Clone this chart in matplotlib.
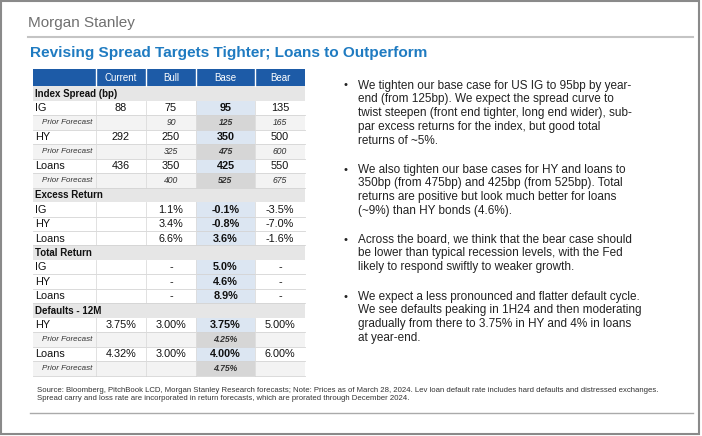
import matplotlib
matplotlib.use("Agg")
import matplotlib.pyplot as plt
from matplotlib.patches import Rectangle

# --- data -------------------------------------------------------------
columns = ["Current", "Bull", "Base", "Bear"]

spread_labels = ["IG", "HY", "Loans"]
spread_current = ["88", "292", "436"]
spread_bull = ["75", "250", "350"]
spread_base = ["95", "350", "425"]
spread_bear = ["135", "500", "550"]
prior_bull = ["90", "325", "400"]
prior_base = ["125", "475", "525"]
prior_bear = ["165", "600", "675"]

excess_labels = ["IG", "HY", "Loans"]
excess_bull = ["1.1%", "3.4%", "6.6%"]
excess_base = ["-0.1%", "-0.8%", "3.6%"]
excess_bear = ["-3.5%", "-7.0%", "-1.6%"]

total_labels = ["IG", "HY", "Loans"]
total_bull = ["-", "-", "-"]
total_base = ["5.0%", "4.6%", "8.9%"]
total_bear = ["-", "-", "-"]

default_labels = ["HY", "Loans"]
default_current = ["3.75%", "4.32%"]
default_bull = ["3.00%", "3.00%"]
default_base = ["3.75%", "4.00%"]
default_bear = ["5.00%", "6.00%"]
default_prior_base = ["4.25%", "4.75%"]

title = "Revising Spread Targets Tighter; Loans to Outperform"
bullets = [
    "We tighten our base case for US IG to 95bp by year-\nend (from 125bp). We expect the spread curve to\n"
    "twist steepen (front end tighter, long end wider), sub-\npar excess returns for the index, but good total\nreturns of ~5%.",
    "We also tighten our base cases for HY and loans to\n350bp (from 475bp) and 425bp (from 525bp). Total\n"
    "returns are positive but look much better for loans\n(~9%) than HY bonds (4.6%).",
    "Across the board, we think that the bear case should\nbe lower than typical recession levels, with the Fed\n"
    "likely to respond swiftly to weaker growth.",
    "We expect a less pronounced and flatter default cycle.\nWe see defaults peaking in 1H24 and then moderating\n"
    "gradually from there to 3.75% in HY and 4% in loans\nat year-end.",
]
source = ("Source: Bloomberg, PitchBook LCD, Morgan Stanley Research forecasts; Note: Prices as of March 28, 2024. "
          "Lev loan default rate includes hard defaults and distressed exchanges.\n"
          "Spread carry and loss rate are incorporated in return forecasts, which are prorated through December 2024.")

# --- build table rows ----------------------------------------------------
rows = []  # (kind, label, [current, bull, base, bear])
rows.append(("section", "Index Spread (bp)", ["", "", "", ""]))
for i, lab in enumerate(spread_labels):
    rows.append(("data", lab, [spread_current[i], spread_bull[i], spread_base[i], spread_bear[i]]))
    rows.append(("prior", "Prior Forecast", ["", prior_bull[i], prior_base[i], prior_bear[i]]))
rows.append(("section", "Excess Return", ["", "", "", ""]))
for i, lab in enumerate(excess_labels):
    rows.append(("data", lab, ["", excess_bull[i], excess_base[i], excess_bear[i]]))
rows.append(("section", "Total Return", ["", "", "", ""]))
for i, lab in enumerate(total_labels):
    rows.append(("data", lab, ["", total_bull[i], total_base[i], total_bear[i]]))
rows.append(("section", "Defaults - 12M", ["", "", "", ""]))
for i, lab in enumerate(default_labels):
    rows.append(("data", lab, [default_current[i], default_bull[i], default_base[i], default_bear[i]]))
    rows.append(("prior", "Prior Forecast", ["", "", default_prior_base[i], ""]))

plt.rcParams["font.family"] = ["Liberation Sans", "DejaVu Sans"]

W, H = 702, 436
fig = plt.figure(figsize=(W / 100, H / 100), dpi=100)
ax = fig.add_axes([0, 0, 1, 1])
ax.set_xlim(0, W)
ax.set_ylim(H, 0)
ax.axis("off")

# page frame, logo, rules
ax.add_patch(Rectangle((1, 1), W - 4, H - 3, fill=False, ec="#8a8a8a", lw=1.5))
ax.text(28, 22.5, "Morgan Stanley", fontsize=11, color="#707070", va="center", ha="left")
ax.plot([28, 693], [37.5, 37.5], color="#c4c4c4", lw=1.5)
ax.text(30, 53, title, fontsize=11.1, color="#1f7bc1", fontweight="bold", va="center", ha="left")

# table geometry
col_edges = [33, 96, 146, 196, 255, 305]
head_top, head_bot = 69, 86.5
row_h = 14.45
blue = "#1d5ba7"

ax.add_patch(Rectangle((col_edges[0], head_top), col_edges[-1] - col_edges[0], head_bot - head_top,
                       fc=blue, ec="none"))
for j, name in enumerate(columns):
    x0, x1 = col_edges[j + 1], col_edges[j + 2]
    ax.plot([x0, x0], [head_top, head_bot], color="white", lw=1.0)
    ax.text((x0 + x1) / 2, (head_top + head_bot) / 2 + 0.5, name, color="white", fontsize=7,
            ha="center", va="center")

for r, (kind, label, vals) in enumerate(rows):
    y0 = head_bot + r * row_h
    yc = y0 + row_h / 2 + 0.3
    if kind == "section":
        ax.add_patch(Rectangle((col_edges[0], y0), col_edges[-1] - col_edges[0], row_h,
                               fc="#e6e6e6", ec="none"))
        ax.text(col_edges[0] + 2, yc, label, fontsize=7, fontweight="bold",
                ha="left", va="center", color="#111111")
        continue
    bg = "#f3f3f3" if kind == "prior" else "white"
    ax.add_patch(Rectangle((col_edges[0], y0), col_edges[-1] - col_edges[0], row_h, fc=bg, ec="none"))
    base_bg = "#d6d6d6" if kind == "prior" else "#dce6f2"
    ax.add_patch(Rectangle((col_edges[3], y0), col_edges[4] - col_edges[3], row_h, fc=base_bg, ec="none"))
    for x in col_edges[1:-1]:
        ax.plot([x, x], [y0, y0 + row_h], color="#dcdcdc", lw=0.6)
    ax.plot([col_edges[0], col_edges[-1]], [y0 + row_h, y0 + row_h], color="#d4d4d4", lw=0.6)
    if kind == "prior":
        ax.text(col_edges[0] + 9, yc, label, fontsize=5.8, style="italic",
                ha="left", va="center", color="#333333")
    else:
        ax.text(col_edges[0] + 2, yc, label, fontsize=7.8, ha="left", va="center",
                color="#111111")
    for j, v in enumerate(vals):
        if not v:
            continue
        xc = (col_edges[j + 1] + col_edges[j + 2]) / 2
        bold = (j == 2)
        if kind == "prior":
            ax.text(xc, yc, v, fontsize=6.2, style="italic", fontweight="bold" if bold else "normal",
                    ha="center", va="center", color="#333333")
        else:
            ax.text(xc, yc, v, fontsize=7.8, fontweight="bold" if bold else "normal",
                    ha="center", va="center", color="#111111")

# bullets
bullet_y = [85.5, 169.5, 239.5, 296.5]
for y, txt in zip(bullet_y, bullets):
    ax.text(346, y, "\u2022", fontsize=8, ha="center", va="center", color="#222222")
    ax.text(358, y - 6, txt, fontsize=8.5, ha="left", va="top", color="#222222", linespacing=1.22)

# source
ax.text(37, 386.5, source, fontsize=5.6, ha="left", va="top", color="#333333", linespacing=1.38)
ax.plot([30, 693], [413, 413], color="#aaaaaa", lw=1.0)

fig.savefig("out.png", dpi=100)
